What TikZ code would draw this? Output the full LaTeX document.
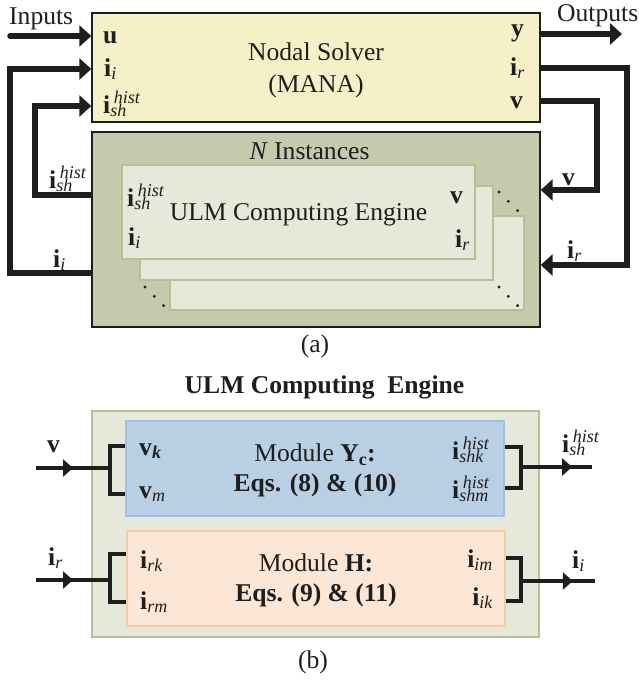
\documentclass[tikz,border=0pt]{standalone}
\usepackage{amsmath}
\usepackage{fontspec}
\setmainfont{Liberation Serif}
\usetikzlibrary{arrows.meta,positioning,calc,decorations.markings}
\definecolor{Ink}{HTML}{1E1E1E}
\definecolor{SolverFill}{HTML}{F6F0C9}
\definecolor{InstFill}{HTML}{C4CBAD}
\definecolor{CardFill}{HTML}{E6E8DA}
\definecolor{CardLine}{HTML}{B5BF98}
\definecolor{YcFill}{HTML}{B9CFE3}
\definecolor{YcLine}{HTML}{9DC2E4}
\definecolor{HFill}{HTML}{FCE6D5}
\definecolor{HLine}{HTML}{F7CBA8}
\newcommand{\diagfont}{\fontsize{25.6}{32}\selectfont}
\newcommand{\scrfont}{\fontsize{18}{20}\selectfont\itshape}
% bold current with a sub index and a raised "hist"
\newcommand{\hstcur}[1]{\textbf{i}\makebox[0pt][l]{\raisebox{-3.5pt}{\scrfont #1}}\hspace{3.5pt}\raisebox{10pt}{\scrfont hist}}
\newcommand{\subvec}[2]{$\textbf{#1}_{\textit{#2}}$}
\tikzset{
  frame/.style={rectangle,draw=Ink,line width=1.4pt},
  solver/.style={frame,fill=SolverFill},
  inst/.style={frame,fill=InstFill},
  card/.style={rectangle,fill=CardFill,draw=CardLine,line width=1.5pt},
  engine/.style={rectangle,fill=CardFill,draw=CardLine,line width=1.5pt},
  module/.style={rectangle,line width=1.5pt},
  ycmod/.style={module,fill=YcFill,draw=YcLine},
  hmod/.style={module,fill=HFill,draw=HLine},
  modtext/.style={align=center,font=\fontsize{25.6}{30}\selectfont},
  bus/.style={draw=Ink,line width=5.5pt},
  link/.style={draw=Ink,line width=3.2pt},
  midarr/.style={postaction={decorate},decoration={markings,
    mark=at position #1 with {\arrow{Triangle[length=10pt,width=17pt]}}}},
  >={Triangle[length=12pt,width=21pt]}
}
\begin{document}
\begin{tikzpicture}[x=1pt,y=-1pt,every node/.style={font=\diagfont,text=Ink,inner sep=0pt}]
  \useasboundingbox (0,0) rectangle (639,680);

  % (a) nodal solver and the N engine instances
  \node[solver,minimum width=448pt,minimum height=109pt] (mana) at (316,67.5) {};
  \node[align=center] (manaTxt) at (316,70.5) {Nodal Solver\\(MANA)};
  \node[inst,minimum width=448pt,minimum height=195pt] (inst) at (316,229.5) {};
  \node[anchor=base] (instT) at (309.5,159) {\textit{N} Instances};

  \node[card,minimum width=354pt,minimum height=94pt] (card3) at (347,263) {};
  \node[card,minimum width=353pt,minimum height=94pt] (card2) at (316.5,233) {};
  \node[card,minimum width=353pt,minimum height=94pt] (card1) at (298.5,212) {};
  \node (cardTxt) at (298.5,215) {ULM Computing Engine};

  \foreach \gx/\gy in {499/192,499/287,145/287}
    \foreach \k in {0,1,2}
      \fill[Ink] (\gx+9.3*\k,\gy+9.3*\k) circle (1.6pt);

  % port labels
  \node[anchor=base west] (mU) at (103,43) {\textbf{u}};
  \node[anchor=base west] (mIi) at (104,76) {\subvec{i}{i}};
  \node[anchor=base west] (mIsh) at (103,113) {\hstcur{sh}};
  \node[anchor=base east] (mY) at (524,36) {\textbf{y}};
  \node[anchor=base east] (mIr) at (525,75) {\subvec{i}{r}};
  \node[anchor=base east] (mV) at (523,108) {\textbf{v}};

  \node[anchor=base west] (cIsh) at (127,206) {\hstcur{sh}};
  \node[anchor=base west] (cIi) at (128,245) {\subvec{i}{i}};
  \node[anchor=base east] (cV) at (463,203) {\textbf{v}};
  \node[anchor=base east] (cIr) at (470,247) {\subvec{i}{r}};

  \node[anchor=base west] (inLbl) at (9,24) {Inputs};
  \node[anchor=base west] (outLbl) at (557,21) {Outputs};
  \node[anchor=base west] (lIsh) at (49,188) {\hstcur{sh}};
  \node[anchor=base west] (lIi) at (53,267) {\subvec{i}{i}};
  \node[anchor=base west] (rV) at (562,185) {\textbf{v}};
  \node[anchor=base west] (rIr) at (567,258) {\subvec{i}{r}};

  % solver connections
  \coordinate (inSrc) at (10,36);
  \coordinate (outDst) at (622,34);
  \coordinate (irT) at (627,68);
  \coordinate (irB) at (627,265);
  \coordinate (vT) at (597,101);
  \coordinate (vB) at (597,190);
  \coordinate (iiB) at (10,273);
  \coordinate (iiT) at (10,69);
  \coordinate (ishB) at (35,195);
  \coordinate (ishT) at (35,106);

  \draw[bus,->,line cap=round] (inSrc) -- (inSrc -| mana.west);
  \draw[bus,->] (outDst -| mana.east) -- (outDst);
  \draw[bus,->] (irT -| mana.east) -- (irT) -- (irB) -- (irB -| inst.east);
  \draw[bus,->] (vT -| mana.east) -- (vT) -- (vB) -- (vB -| inst.east);
  \draw[bus,->] (iiB -| inst.west) -- (iiB) -- (iiT) -- (iiT -| mana.west);
  \draw[bus,->] (ishB -| inst.west) -- (ishB) -- (ishT) -- (ishT -| mana.west);

  \node (capA) at (315,346) {(a)};

  % (b) inside one ULM computing engine
  \node[anchor=base] (ulmT) at (324.5,393) {\textbf{ULM Computing\ \ Engine}};
  \node[engine,minimum width=447pt,minimum height=226pt] (ulm) at (315.5,524) {};
  \node[ycmod,minimum width=378pt,minimum height=95pt] (ymod) at (315,468.5) {};
  \node[modtext] (ymodTxt) at (315,470.5)
    {Module \textbf{Y}$_{\textbf{c}}$\textbf{:}\\\textbf{Eqs. (8) \& (10)}};
  \node[hmod,minimum width=378pt,minimum height=95pt] (hmod) at (316,578.5) {};
  \node[modtext] (hmodTxt) at (316,580.5)
    {Module \textbf{H:}\\\textbf{Eqs. (9) \& (11)}};

  \node[anchor=base west] (yVk) at (139,455) {$\textbf{v}_{\textbf{\textit{k}}}$};
  \node[anchor=base west] (yVm) at (139,498) {\subvec{v}{m}};
  \node[anchor=base east] (yIk) at (489,459) {\hstcur{shk}};
  \node[anchor=base east] (yIm) at (489,498) {\hstcur{shm}};
  \node[anchor=base west] (hIrk) at (140,568) {\subvec{i}{rk}};
  \node[anchor=base west] (hIrm) at (140,609) {\subvec{i}{rm}};
  \node[anchor=base east] (hIim) at (493,567) {\subvec{i}{im}};
  \node[anchor=base east] (hIik) at (493,605) {\subvec{i}{ik}};

  \node[anchor=base west] (bV) at (47,452) {\textbf{v}};
  \node[anchor=base west] (bIsh) at (562,452) {\hstcur{sh}};
  \node[anchor=base west] (bIr) at (48,565) {\subvec{i}{r}};
  \node[anchor=base west] (bIi) at (572,568) {\subvec{i}{i}};

  \coordinate (vkL) at (110,446);
  \coordinate (vmL) at (110,494);
  \coordinate (vIn) at (36,468);
  \coordinate (shkR) at (521,447);
  \coordinate (shmR) at (521,488);
  \coordinate (shOut) at (592,467);
  \coordinate (rkL) at (110,554);
  \coordinate (rmL) at (110,602);
  \coordinate (irIn) at (36,580);
  \coordinate (imR) at (521,558);
  \coordinate (ikR) at (521,601);
  \coordinate (iiOut) at (595,581);

  \draw[link] (vkL -| ymod.west) -- (vkL) -- (vmL) -- (vmL -| ymod.west);
  \draw[link,midarr=0.5] (vIn) -- (vIn -| vkL);
  \draw[link] (shkR -| ymod.east) -- (shkR) -- (shmR) -- (shmR -| ymod.east);
  \draw[link,midarr=0.72] (shOut -| shkR) -- (shOut);
  \draw[link] (rkL -| hmod.west) -- (rkL) -- (rmL) -- (rmL -| hmod.west);
  \draw[link,midarr=0.5] (irIn) -- (irIn -| rkL);
  \draw[link] (imR -| hmod.east) -- (imR) -- (ikR) -- (ikR -| hmod.east);
  \draw[link,midarr=0.7] (iiOut -| imR) -- (iiOut);

  \node (capB) at (313,662) {(b)};
\end{tikzpicture}
\end{document}
